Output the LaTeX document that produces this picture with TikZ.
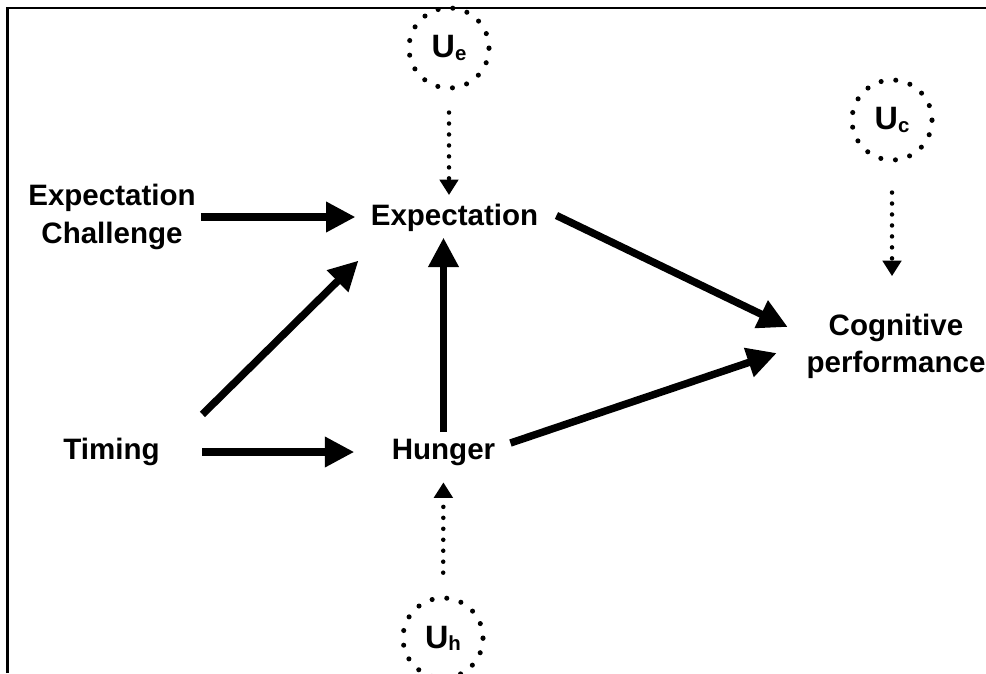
\documentclass[tikz,border=0pt]{standalone}
\usepackage{fontspec}
\setmainfont{Liberation Sans}
\usetikzlibrary{arrows.meta, calc}

\newcommand{\usub}[1]{U\raisebox{-1.5pt}{\fontsize{14.5}{15}\selectfont #1}}

\begin{document}
\begin{tikzpicture}[x=0.025cm, y=-0.025cm,
  lbl/.style={font=\bfseries\fontsize{21}{26.5}\selectfont, align=center, inner sep=0pt},
  latent/.style={circle, draw, minimum size=2cm, inner sep=0pt, line width=3.6pt, line cap=round,
                 dash pattern=on 0pt off 10.5pt, font=\bfseries\fontsize{23}{24}\selectfont},
  causal/.style={line width=5.3pt, -{Triangle[length=21pt, width=20.5pt]}},
  unobs/.style={line width=3.2pt, line cap=round, dash pattern=on 0pt off 7.8pt,
                -{Triangle[length=11pt, width=13pt]}}]

  \useasboundingbox (0,0) rectangle (986,673);

  % frame
  \draw[line width=1.8pt] (7.5,673) -- (7.5,8) -- (986,8);

  % observed variables
  \node[lbl] (chal)   at (112,217)   {Expectation\\Challenge};
  \node[lbl] (expect) at (454.5,217.5) {Expectation};
  \node[lbl] (timing) at (111.5,452) {Timing};
  \node[lbl] (hunger) at (443.5,452) {Hunger};
  \node[lbl] (cog)    at (896,346)   {Cognitive\\performance};

  % unobserved
  \node[latent] (ue) at (449,48)  {\usub{e}};
  \node[latent] (uc) at (892,120) {\usub{c}};
  \node[latent] (uh) at (443,638) {\usub{h}};

  % causal arrows
  \draw[causal, shorten <=0.125cm] (chal.east) -- ([xshift=-0.375cm]chal.east -| expect.west);
  \draw[causal] ([xshift=1.06cm]timing.east) -- ([xshift=-0.93cm]hunger.west);
  \draw[causal] ([shift={(42.5,-23.5)}]timing.north east) -- ([shift={(-12,29)}]expect.south west);
  \draw[causal] ([yshift=0.16cm]hunger.north) -- ([yshift=-0.15cm]hunger.north |- expect.south);
  \draw[causal] ([shift={(18,-2)}]expect.east) -- ([shift={(-18.5,-19)}]cog.west);
  \draw[causal] ([shift={(15,-9)}]hunger.east) -- ([shift={(-29.5,7)}]cog.west);

  % unobserved influences
  \draw[unobs, shorten <=0.55cm] (ue) -- ([yshift=0.21cm]ue |- expect.north);
  \draw[unobs, shorten <=0.75cm] (uc) -- ([yshift=0.93cm]uc |- cog.north);
  \draw[unobs, shorten <=0.57cm, shorten >=0.42cm] (uh) -- (hunger);

\end{tikzpicture}
\end{document}
